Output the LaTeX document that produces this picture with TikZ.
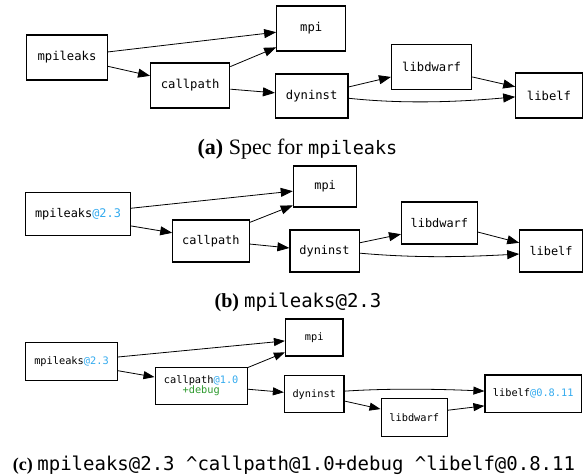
\documentclass[tikz,border=0pt]{standalone}
\usepackage{fontspec}
\setmainfont{Liberation Serif}
\newfontfamily\nmono{DejaVu Sans Mono}
\usetikzlibrary{arrows.meta,calc}
\definecolor{ver}{HTML}{33AAEE}
\definecolor{vari}{HTML}{2E9A2E}
\tikzset{
  box/.style={draw, line width=1.1pt, inner sep=0pt, align=center},
  fa/.style={font=\nmono\fontsize{12.2}{14}\selectfont},
  fb/.style={font=\nmono\fontsize{11.9}{14}\selectfont},
  fc/.style={font=\nmono\fontsize{10.3}{12}\selectfont},
  edge/.style={-{Triangle[length=12pt,width=9pt]}, line width=0.8pt},
  edgec/.style={-{Triangle[length=11pt,width=8pt]}, line width=0.8pt},
  capt/.style={inner sep=0pt, anchor=base}
}
\begin{document}
\begin{tikzpicture}[x=1pt,y=-1pt]
\useasboundingbox (0,0) rectangle (583,476);
% ---------- (a)
\node[box,fa,minimum width=80.3pt,minimum height=45pt] (amp) at (67,57.5) {mpileaks};
\node[box,fa,minimum width=69pt,minimum height=45pt] (ampi) at (311.2,28.5) {mpi};
\node[box,fa,minimum width=79.2pt,minimum height=45pt] (acp) at (190.2,85.5) {callpath};
\node[box,fa,minimum width=72.5pt,minimum height=44pt] (adyn) at (311.7,96) {dyninst};
\node[box,fa,minimum width=80.2pt,minimum height=45pt] (adw) at (431.6,66.8) {libdwarf};
\node[box,fa,minimum width=66.5pt,minimum height=45pt] (aelf) at (549,95.5) {libelf};
\draw[edge] ($(amp.north east)!0.38!(amp.south east)$) -- ($(ampi.north west)!0.58!(ampi.south west)$);
\draw[edge] ($(amp.north east)!0.69!(amp.south east)$) -- ($(acp.north west)!0.29!(acp.south west)$);
\draw[edge] ($(acp.north east)!0.09!(acp.south east)$) -- ($(ampi.north west)!0.91!(ampi.south west)$);
\draw[edge] ($(acp.north east)!0.58!(acp.south east)$) -- ($(adyn.north west)!0.43!(adyn.south west)$);
\draw[edge] ($(adyn.north east)!0.3!(adyn.south east)$) -- ($(adw.north west)!0.72!(adw.south west)$);
\draw[edge] ($(adyn.north east)!0.55!(adyn.south east)$) .. controls +(56,6) and +(-56,5) .. ($(aelf.north west)!0.53!(aelf.south west)$);
\draw[edge] ($(adw.north east)!0.72!(adw.south east)$) -- ($(aelf.north west)!0.31!(aelf.south west)$);
\node[capt] (capa) at (297.5,154) {\fontsize{22}{26}\selectfont\textbf{(a)} Spec for {\nmono\fontsize{18.5}{22}\selectfont mpileaks}};
% ---------- (b)
\node[box,fb,minimum width=104.5pt,minimum height=43pt] (bmp) at (78,214) {mpileaks\textcolor{ver}{@2.3}};
\node[box,fb,minimum width=63.6pt,minimum height=41pt] (bmpi) at (325.1,186.5) {mpi};
\node[box,fb,minimum width=76.3pt,minimum height=42pt] (bcp) at (210.9,241) {callpath};
\node[box,fb,minimum width=69.1pt,minimum height=42pt] (bdyn) at (324.5,251) {dyninst};
\node[box,fb,minimum width=75.8pt,minimum height=42pt] (bdw) at (439.4,223) {libdwarf};
\node[box,fb,minimum width=62.5pt,minimum height=42pt] (belf) at (551,251) {libelf};
\draw[edge] ($(bmp.north east)!0.37!(bmp.south east)$) -- ($(bmpi.north west)!0.61!(bmpi.south west)$);
\draw[edge] ($(bmp.north east)!0.77!(bmp.south east)$) -- ($(bcp.north west)!0.31!(bcp.south west)$);
\draw[edge] ($(bcp.north east)!0.07!(bcp.south east)$) -- ($(bmpi.north west)!0.95!(bmpi.south west)$);
\draw[edge] ($(bcp.north east)!0.57!(bcp.south east)$) -- ($(bdyn.north west)!0.43!(bdyn.south west)$);
\draw[edge] ($(bdyn.north east)!0.31!(bdyn.south east)$) -- ($(bdw.north west)!0.76!(bdw.south west)$);
\draw[edge] ($(bdyn.north east)!0.55!(bdyn.south east)$) .. controls +(56,5) and +(-56,3) .. ($(belf.north west)!0.57!(belf.south west)$);
\draw[edge] ($(bdw.north east)!0.71!(bdw.south east)$) -- ($(belf.north west)!0.31!(belf.south west)$);
\node[capt] (capb) at (298,307) {\fontsize{20}{24}\selectfont\textbf{(b)} {\nmono\fontsize{19}{22}\selectfont mpileaks@2.3}};
% ---------- (c)
\node[box,fc,minimum width=91.6pt,minimum height=38pt] (cmp) at (71.5,361.7) {mpileaks\textcolor{ver}{@2.3}};
\node[box,fc,minimum width=57.5pt,minimum height=37pt] (cmpi) at (314.2,337.5) {mpi};
\node[box,fc,minimum width=92.3pt,minimum height=37pt] (ccp) at (201.2,385.8) {callpath\textcolor{ver}{@1.0}\\[-2pt]\textcolor{vari}{+debug}};
\node[box,fc,minimum width=59.6pt,minimum height=37pt] (cdyn) at (314.2,394.2) {dyninst};
\node[box,fc,minimum width=66.3pt,minimum height=37.7pt] (cdw) at (414.2,417.2) {libdwarf};
\node[box,fc,minimum width=96.5pt,minimum height=37.7pt] (celf) at (533.2,393.8) {libelf\textcolor{ver}{@0.8.11}};
\draw[edgec] ($(cmp.north east)!0.38!(cmp.south east)$) -- ($(cmpi.north west)!0.59!(cmpi.south west)$);
\draw[edgec] ($(cmp.north east)!0.73!(cmp.south east)$) -- ($(ccp.north west)!0.27!(ccp.south west)$);
\draw[edgec] ($(ccp.north east)!0.02!(ccp.south east)$) -- ($(cmpi.north west)!0.89!(cmpi.south west)$);
\draw[edgec] ($(ccp.north east)!0.59!(ccp.south east)$) -- ($(cdyn.north west)!0.45!(cdyn.south west)$);
\draw[edgec] ($(cdyn.north east)!0.42!(cdyn.south east)$) .. controls +(45,-3) and +(-45,-2) .. ($(celf.north west)!0.43!(celf.south west)$);
\draw[edgec] ($(cdyn.north east)!0.68!(cdyn.south east)$) -- ($(cdw.north west)!0.29!(cdw.south west)$);
\draw[edgec] ($(cdw.north east)!0.32!(cdw.south east)$) -- ($(celf.north west)!0.81!(celf.south west)$);
\node[capt] (capc) at (294,470) {\fontsize{18}{21}\selectfont\textbf{(c)} {\nmono\fontsize{19}{22}\selectfont mpileaks@2.3 \textasciicircum callpath@1.0+debug \textasciicircum libelf@0.8.11}};
\end{tikzpicture}
\end{document}
